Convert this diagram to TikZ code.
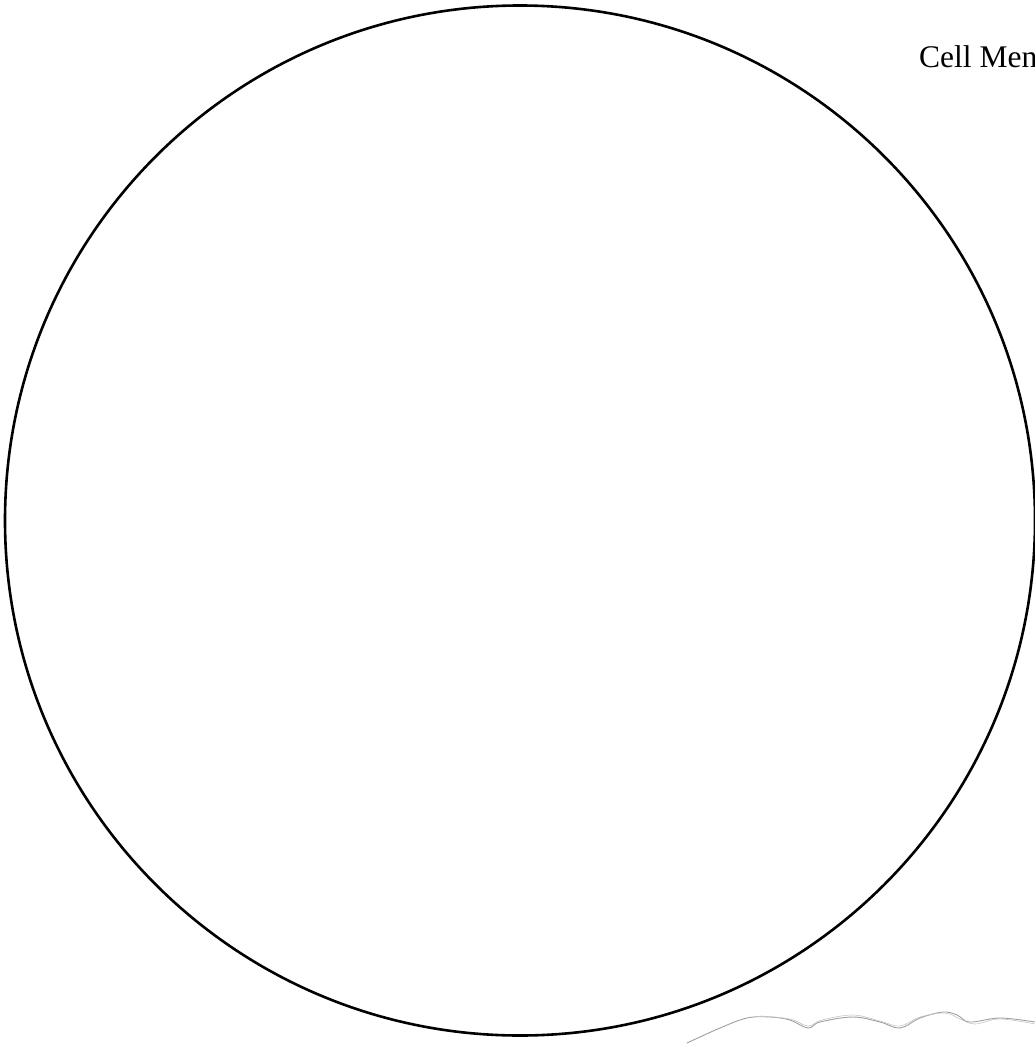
\documentclass[tikz,border=0pt]{standalone}
\usepackage{fontspec}
\setmainfont{Liberation Serif}
\begin{document}
\begin{tikzpicture}[x=1pt,y=-1pt,
  membrane/.style={draw=black,line width=2.6pt},
  sketchline/.style={draw=gray!75,line width=0.9pt,line join=round,line cap=round},
  labeltext/.style={font=\fontsize{31.5}{36}\selectfont,anchor=base west,inner sep=0pt}]
\useasboundingbox (0,0) rectangle (1035,1044);
\node[membrane,circle,minimum size=1030pt,inner sep=0pt] (cell) at (520,520.5) {};
\node[labeltext] (lbl) at (919,67) {Cell Men};
\draw[sketchline] plot[smooth,tension=0.6] coordinates {(687,1043) (720,1028) (747,1018) (770,1017) (790,1020) (808,1028) (820,1022) (853,1017) (880,1022) (900,1028) (920,1018) (943,1012) (957,1015) (970,1022) (1000,1018) (1035,1022)};
\draw[sketchline,draw=gray!45,line width=0.6pt] plot[smooth,tension=0.6] coordinates {(760,1016) (790,1019) (808,1026) (822,1020) (853,1015) (880,1021) (900,1026) (920,1017) (945,1013) (960,1019) (975,1024) (1000,1019) (1035,1024)};
\end{tikzpicture}
\end{document}
